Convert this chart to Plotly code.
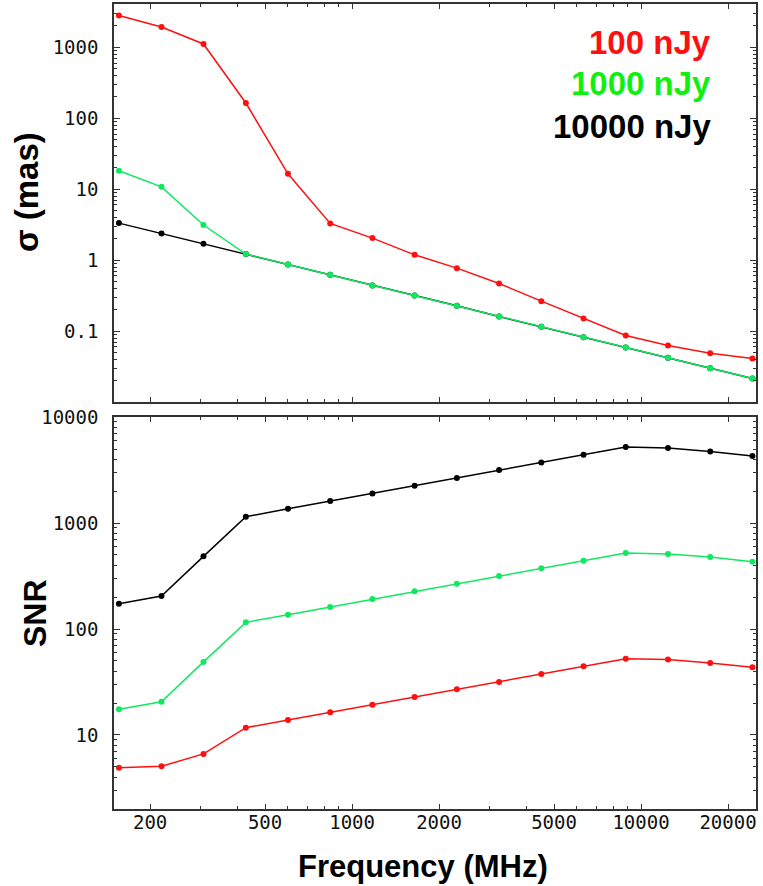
import plotly.graph_objects as go
from plotly.subplots import make_subplots

# ---- data ----
freq_mhz = [156, 219, 306, 429, 600, 840, 1176, 1646, 2305, 3227, 4518, 6325, 8855, 12397, 17356, 24300]

series_names = ["100 nJy", "1000 nJy", "10000 nJy"]

sigma_100 = [2800, 1935, 1114, 164, 16.5, 3.30, 2.05, 1.19, 0.773, 0.470, 0.265, 0.151, 0.0869, 0.0628, 0.0490, 0.0412]
sigma_1000 = [18.2, 10.8, 3.13, 1.22, 0.871, 0.623, 0.441, 0.318, 0.2275, 0.161, 0.115, 0.0823, 0.0589, 0.0421, 0.0301, 0.0215]
sigma_10000 = [3.33, 2.38, 1.70, 1.22, 0.871, 0.623, 0.441, 0.318, 0.2275, 0.161, 0.115, 0.0823, 0.0589, 0.0421, 0.0301, 0.0215]

snr_100 = [4.89, 5.06, 6.62, 11.72, 13.85, 16.36, 19.3, 22.8, 27.0, 31.6, 37.6, 44.5, 52.5, 51.4, 47.8, 43.5]
snr_1000 = [17.5, 20.6, 48.9, 115.6, 136.5, 161.4, 191.9, 226.6, 268, 316.5, 373.6, 441.5, 521, 510, 477.5, 431]
snr_10000 = [173, 205, 485, 1148, 1365, 1613, 1905, 2250, 2658, 3162, 3733, 4413, 5212, 5100, 4742, 4285]

x_tickvals = [200, 500, 1000, 2000, 5000, 10000, 20000]
x_ticktext = ["200", "500", "1000", "2000", "5000", "10000", "20000"]

# ---- styling ----
RED = "#ff1010"
GREEN_LINE = "#10e860"
GREEN_TEXT = "#10f010"
BLACK = "#000000"
FRAME = "#333333"
TICKFONT = dict(family="DejaVu Sans Mono", size=19, color="#111111")
TITLEFONT = "Liberation Sans"

W, H = 763, 886
ML, MR, MT, MB = 114, 7, 4, 77
PW, PH = W - ML - MR, H - MT - MB


def py(pix):
    return (H - MB - pix) / PH


def px(pix):
    return (pix - ML) / PW


fig = make_subplots(rows=2, cols=1, shared_xaxes=False, vertical_spacing=0.0)

top = [(sigma_10000, BLACK), (sigma_100, RED), (sigma_1000, GREEN_LINE)]
bot = [(snr_10000, BLACK), (snr_1000, GREEN_LINE), (snr_100, RED)]
for vals, col in top:
    fig.add_trace(go.Scatter(x=freq_mhz, y=vals, mode="lines+markers",
                             line=dict(color=col, width=1.5),
                             marker=dict(color=col, size=6), showlegend=False),
                  row=1, col=1)
for vals, col in bot:
    fig.add_trace(go.Scatter(x=freq_mhz, y=vals, mode="lines+markers",
                             line=dict(color=col, width=1.5),
                             marker=dict(color=col, size=6), showlegend=False),
                  row=2, col=1)

minor_x = [m * 10 ** e for e in range(2, 5) for m in range(1, 10) if 150 <= m * 10 ** e <= 25000]

xcommon = dict(type="log", range=[2.1761, 4.3979], showgrid=False, zeroline=False,
               showline=True, linecolor=FRAME, linewidth=1.5, mirror="ticks",
               ticks="inside", ticklen=5, tickwidth=1, tickcolor=FRAME,
               tickmode="array", tickvals=x_tickvals, ticktext=x_ticktext,
               minor=dict(tickmode="array", tickvals=minor_x, ticks="inside",
                          ticklen=3, tickcolor=FRAME, showgrid=False),
               tickfont=TICKFONT, automargin=False)

fig.update_xaxes(**xcommon, showticklabels=False, row=1, col=1)
fig.update_xaxes(**xcommon, showticklabels=True, ticklabelstandoff=-5, row=2, col=1)

ycommon = dict(type="log", showgrid=False, zeroline=False, showline=True,
               linecolor=FRAME, linewidth=1.5, mirror="ticks", ticks="inside",
               ticklen=6, tickwidth=1, tickcolor=FRAME, dtick=1,
               exponentformat="none", separatethousands=False,
               minor=dict(ticks="inside", ticklen=3, tickcolor=FRAME, dtick="D1", showgrid=False),
               tickfont=TICKFONT, ticklabelstandoff=10, automargin=False)

fig.update_yaxes(**ycommon, range=[-1.998, 3.61], row=1, col=1)
fig.update_yaxes(**ycommon, range=[0.301, 4.001], tickformat="d", row=2, col=1)

fig.update_layout(
    width=W, height=H, margin=dict(l=ML, r=MR, t=MT, b=MB, autoexpand=False),
    paper_bgcolor="white", plot_bgcolor="white",
    xaxis=dict(domain=[0, 1]), xaxis2=dict(domain=[0, 1]),
    yaxis=dict(domain=[py(402), 1.0]),
    yaxis2=dict(domain=[0.0, py(417)]),
)

annotations = []
legend_cols = [RED, GREEN_TEXT, BLACK]
legend_y = [42, 84, 126]
for name, col, yy in zip(series_names, legend_cols, legend_y):
    annotations.append(dict(text="<b>%s</b>" % name, x=px(713), y=py(yy), xref="paper", yref="paper",
                            xanchor="right", yanchor="middle", showarrow=False,
                            font=dict(family=TITLEFONT, size=33, color=col)))

annotations.append(dict(text="<b>σ (mas)</b>", x=px(27), y=py(192), xref="paper", yref="paper",
                        xanchor="center", yanchor="middle", textangle=-90, showarrow=False,
                        font=dict(family=TITLEFONT, size=33, color="black")))
annotations.append(dict(text="<b>SNR</b>", x=px(35), y=py(613), xref="paper", yref="paper",
                        xanchor="center", yanchor="middle", textangle=-90, showarrow=False,
                        font=dict(family=TITLEFONT, size=32, color="black")))
annotations.append(dict(text="<b>Frequency (MHz)</b>", x=px(423), y=py(866), xref="paper", yref="paper",
                        xanchor="center", yanchor="middle", showarrow=False,
                        font=dict(family=TITLEFONT, size=31, color="black")))
fig.update_layout(annotations=annotations)

fig.write_html(
    "out.html",
    config={"displayModeBar": False},
    post_script="document.body.style.margin='0';document.body.style.padding='0';"
                "document.documentElement.style.overflow='hidden';",
)
